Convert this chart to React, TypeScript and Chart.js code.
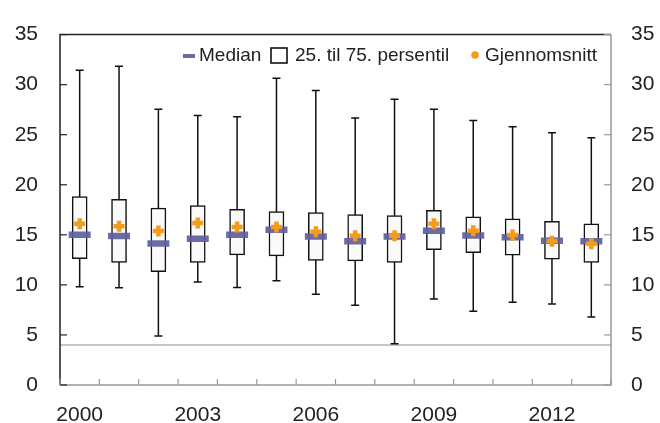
import React, { useEffect, useRef } from "react";
import { Chart, registerables } from "chart.js";

Chart.register(...registerables);

const years = ["2000","2001","2002","2003","2004","2005","2006","2007","2008","2009","2010","2011","2012","2013"];
const whiskerHigh = [31.45, 31.84, 27.55, 26.93, 26.8, 30.65, 29.42, 26.68, 28.55, 27.55, 26.42, 25.8, 25.19, 24.7];
const q3 = [18.83, 18.54, 17.67, 17.93, 17.54, 17.31, 17.21, 17.02, 16.92, 17.44, 16.79, 16.6, 16.34, 16.11];
const medians = [15.02, 14.89, 14.13, 14.6, 15.02, 15.5, 14.83, 14.36, 14.83, 15.41, 14.93, 14.76, 14.4, 14.36];
const means = [16.11, 15.85, 15.37, 16.18, 15.79, 15.79, 15.31, 14.9, 14.9, 16.11, 15.41, 14.98, 14.37, 14.1];
const q1 = [12.63, 12.24, 11.33, 12.24, 13.0, 12.89, 12.44, 12.4, 12.24, 13.53, 13.21, 12.96, 12.56, 12.24];
const whiskerLow = [9.82, 9.72, 4.9, 10.28, 9.75, 10.41, 9.06, 7.97, 4.13, 8.6, 7.36, 8.27, 8.08, 6.79];
const referenceLevel = 4;
const shownYears = ["2000", "2003", "2006", "2009", "2012"];
const legendLabels = ["Median", "25. til 75. persentil", "Gjennomsnitt"];

const FONT = "'Liberation Sans', Arial, sans-serif";
const MEDIAN_COLOR = "rgba(96,96,156,0.92)";
const MEAN_COLOR = "#F59B1C";

const extrasPlugin = {
  id: "extras",
  beforeDatasetsDraw(chart: any) {
    const { ctx, chartArea, scales } = chart;
    const x = scales.x;
    const y = scales.y;
    ctx.save();
    const ry = y.getPixelForValue(referenceLevel);
    ctx.strokeStyle = "#b4b4b4";
    ctx.lineWidth = 1.5;
    ctx.beginPath();
    ctx.moveTo(chartArea.left, ry);
    ctx.lineTo(chartArea.right, ry);
    ctx.stroke();
    ctx.strokeStyle = "#111";
    ctx.lineWidth = 1.5;
    years.forEach((_, i) => {
      const cx = x.getPixelForValue(i);
      const yh = y.getPixelForValue(whiskerHigh[i]);
      const yl = y.getPixelForValue(whiskerLow[i]);
      ctx.beginPath();
      ctx.moveTo(cx, yh);
      ctx.lineTo(cx, yl);
      ctx.moveTo(cx - 4, yh);
      ctx.lineTo(cx + 4, yh);
      ctx.moveTo(cx - 4, yl);
      ctx.lineTo(cx + 4, yl);
      ctx.stroke();
    });
    ctx.restore();
  },
  afterDraw(chart: any) {
    const { ctx, chartArea, scales } = chart;
    const { left, right, top, bottom } = chartArea;
    const x = scales.x;
    const y = scales.y;
    ctx.save();
    ctx.lineWidth = 1.5;
    ctx.strokeStyle = "#999";
    ctx.beginPath();
    ctx.moveTo(left, bottom);
    ctx.lineTo(right, bottom);
    ctx.lineTo(right, top);
    ctx.stroke();
    ctx.strokeStyle = "#222";
    ctx.beginPath();
    ctx.moveTo(right, top);
    ctx.lineTo(left, top);
    ctx.lineTo(left, bottom);
    ctx.stroke();
    ctx.lineWidth = 1.2;
    for (let v = 0; v <= 35; v += 5) {
      const py = y.getPixelForValue(v);
      ctx.strokeStyle = "#222";
      ctx.beginPath();
      ctx.moveTo(left, py);
      ctx.lineTo(left + 7, py);
      ctx.stroke();
      ctx.strokeStyle = "#999";
      ctx.beginPath();
      ctx.moveTo(right, py);
      ctx.lineTo(right - 7, py);
      ctx.stroke();
    }
    ctx.strokeStyle = "#999";
    for (let i = 0; i <= years.length; i++) {
      const px = x.getPixelForValue(i - 0.5);
      ctx.beginPath();
      ctx.moveTo(px, bottom);
      ctx.lineTo(px, bottom - 6);
      ctx.stroke();
    }
    const ly = 56;
    ctx.font = `19px ${FONT}`;
    ctx.textBaseline = "middle";
    ctx.textAlign = "left";
    ctx.fillStyle = MEDIAN_COLOR;
    ctx.fillRect(183, ly - 2, 12, 4);
    ctx.fillStyle = "#222";
    ctx.fillText(legendLabels[0], 199, ly);
    ctx.fillStyle = "#fff";
    ctx.fillRect(271, 48, 16, 15);
    ctx.strokeStyle = "#111";
    ctx.lineWidth = 1.6;
    ctx.strokeRect(271, 48, 16, 15);
    ctx.fillStyle = "#222";
    ctx.fillText(legendLabels[1], 295, ly);
    ctx.fillStyle = MEAN_COLOR;
    ctx.beginPath();
    ctx.arc(475, ly - 1, 3.8, 0, Math.PI * 2);
    ctx.fill();
    ctx.fillStyle = "#222";
    ctx.fillText(legendLabels[2], 485, ly);
    ctx.restore();
  },
};

export default function App() {
  const ref = useRef<HTMLCanvasElement>(null);
  useEffect(() => {
    document.body.style.margin = "0";
    const canvas = ref.current!;
    const chart = new Chart(canvas, {
      type: "bar",
      data: {
        labels: years,
        datasets: [
          {
            type: "bar",
            label: "box",
            data: years.map((_, i) => [q1[i], q3[i]]),
            backgroundColor: "#fafafa",
            borderColor: "#111",
            borderWidth: 1.5,
            borderSkipped: false,
            barThickness: 15,
            order: 3,
          } as any,
          {
            type: "line",
            label: "median",
            data: medians,
            showLine: false,
            pointStyle: "line",
            pointRadius: 11,
            pointBorderWidth: 6.5,
            pointBorderColor: MEDIAN_COLOR,
            pointBackgroundColor: MEDIAN_COLOR,
            order: 2,
          } as any,
          {
            type: "line",
            label: "mean",
            data: means,
            showLine: false,
            pointStyle: "cross",
            pointRadius: 5.5,
            pointBorderWidth: 4.5,
            pointBorderColor: MEAN_COLOR,
            pointBackgroundColor: MEAN_COLOR,
            order: 1,
          } as any,
        ],
      },
      options: {
        responsive: false,
        animation: false,
        events: [],
        layout: { padding: { top: 25, left: 0, right: 0, bottom: 0 } },
        plugins: { legend: { display: false }, tooltip: { enabled: false } },
        scales: {
          x: {
            grid: { display: false },
            border: { display: false },
            ticks: {
              autoSkip: false,
              maxRotation: 0,
              padding: 10,
              color: "#222",
              font: { family: FONT, size: 21 },
              callback: (_v: any, i: number) => (shownYears.includes(years[i]) ? years[i] : ""),
            },
            afterFit: (s: any) => { s.height = 38; },
          },
          y: {
            position: "left",
            min: 0,
            max: 35,
            grid: { display: false, drawTicks: false },
            border: { display: false },
            ticks: { stepSize: 5, padding: 22, color: "#222", font: { family: FONT, size: 21 } },
            afterFit: (s: any) => { s.width = 60; },
          },
          y2: {
            position: "right",
            min: 0,
            max: 35,
            grid: { display: false, drawTicks: false },
            border: { display: false },
            ticks: { stepSize: 5, padding: 20, color: "#222", font: { family: FONT, size: 21 } },
            afterFit: (s: any) => { s.width = 49; },
          },
        },
      } as any,
      plugins: [extrasPlugin],
    });
    return () => chart.destroy();
  }, []);
  return <canvas ref={ref} width={660} height={423} style={{ display: "block" }} />;
}
